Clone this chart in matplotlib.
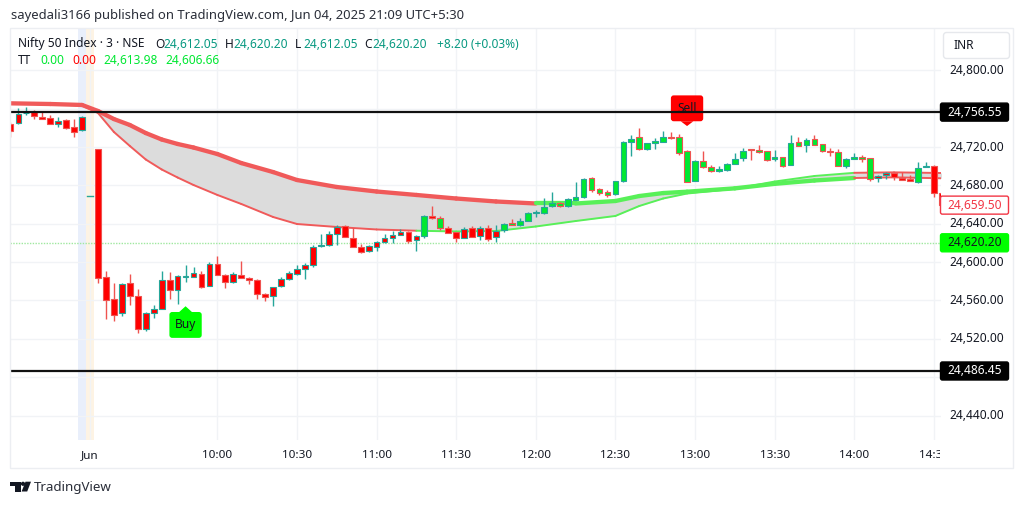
import numpy as np
import matplotlib
matplotlib.use("Agg")
import matplotlib.pyplot as plt
from matplotlib.patches import FancyBboxPatch, Polygon, Rectangle
from matplotlib.transforms import Bbox, blended_transform_factory

plt.rcParams['font.family'] = ['Noto Sans', 'DejaVu Sans']

# ==================== DATA ====================
bars = np.arange(-11, 107)

opens = [24743.8, 24744.9, 24755.3, 24756.6, 24751.7, 24750.0, 24744.1, 24748.0, 24741.3, 24737.9, 24669.3,
         24717.7, 24584.2, 24561.2, 24546.6, 24578.6, 24564.7, 24530.2, 24546.9, 24551.1, 24581.7,
         24571.3, 24584.8, 24584.8, 24587.6, 24575.4, 24597.8, 24586.9, 24579.0, 24586.9, 24583.2,
         24581.4, 24566.8, 24565.0, 24574.8, 24582.4, 24587.6, 24593.2, 24597.0, 24616.5, 24617.9,
         24629.4, 24638.0, 24625.5, 24616.1, 24611.2, 24616.1, 24621.0, 24624.9, 24628.3, 24631.5,
         24622.8, 24627.6, 24648.2, 24645.8, 24635.3, 24631.1, 24625.5, 24635.3, 24627.6, 24635.6,
         24626.5, 24633.2, 24640.8, 24639.1, 24643.2, 24651.6, 24651.0, 24658.6, 24662.0, 24658.6,
         24665.2, 24667.7, 24688.1, 24676.0, 24673.5, 24671.1, 24684.4, 24725.0, 24730.9, 24717.7,
         24724.0, 24725.4, 24730.6, 24730.3, 24716.0, 24685.0, 24705.8, 24699.3, 24694.8, 24696.1,
         24702.4, 24708.3, 24718.0, 24717.0, 24715.6, 24707.3, 24709.4, 24701.4, 24725.7, 24721.9,
         24728.2, 24722.9, 24716.3, 24714.6, 24700.3, 24707.9, 24709.4, 24708.3, 24687.5, 24691.2,
         24692.7, 24688.1, 24686.8, 24683.6, 24699.2, 24700.0, 24672.4]
highs = [24746.0, 24760.8, 24761.9, 24758.7, 24757.0, 24753.5, 24751.4, 24749.0, 24749.3, 24752.0, 24669.3,
         24717.7, 24591.1, 24577.9, 24578.0, 24587.3, 24571.7, 24547.5, 24555.3, 24590.8, 24589.4,
         24586.6, 24596.7, 24595.3, 24591.1, 24600.2, 24606.4, 24587.5, 24590.0, 24601.5, 24584.8,
         24582.0, 24567.5, 24574.5, 24584.8, 24591.1, 24597.0, 24599.4, 24617.9, 24629.4, 24632.8,
         24638.8, 24638.5, 24635.3, 24618.9, 24617.5, 24622.0, 24629.4, 24632.8, 24634.3, 24632.0,
         24628.0, 24649.0, 24658.6, 24648.2, 24637.7, 24631.5, 24637.0, 24637.7, 24637.7, 24639.1,
         24638.8, 24640.8, 24645.0, 24645.8, 24652.3, 24654.4, 24667.2, 24673.2, 24663.0, 24666.5,
         24683.6, 24687.5, 24689.2, 24677.0, 24675.3, 24685.0, 24726.0, 24732.6, 24739.6, 24724.5,
         24729.8, 24736.8, 24735.5, 24733.7, 24716.5, 24706.5, 24716.0, 24701.4, 24700.6, 24703.0,
         24713.6, 24718.8, 24718.4, 24722.2, 24716.0, 24717.0, 24710.0, 24733.0, 24730.9, 24729.2,
         24732.6, 24723.5, 24719.4, 24718.0, 24708.5, 24713.6, 24711.8, 24709.0, 24691.0, 24694.4,
         24694.4, 24694.4, 24691.0, 24704.2, 24704.8, 24701.0, 24672.8]
lows = [24731.0, 24744.0, 24753.5, 24749.3, 24749.0, 24744.0, 24741.0, 24739.0, 24731.0, 24737.0, 24669.3,
        24578.6, 24540.7, 24538.9, 24544.1, 24555.3, 24525.8, 24528.2, 24541.4, 24551.0, 24561.2,
        24556.3, 24579.6, 24584.2, 24572.7, 24575.0, 24586.5, 24573.3, 24578.5, 24583.0, 24576.9,
        24561.5, 24559.8, 24554.6, 24574.5, 24581.4, 24587.0, 24582.4, 24594.6, 24615.5, 24616.8,
        24617.9, 24626.0, 24616.0, 24609.8, 24610.5, 24611.6, 24620.5, 24620.3, 24628.0, 24620.3,
        24612.0, 24625.5, 24645.5, 24633.5, 24630.3, 24621.3, 24624.9, 24625.8, 24623.1, 24622.4,
        24621.3, 24631.8, 24638.8, 24637.7, 24642.8, 24647.4, 24650.5, 24658.0, 24658.0, 24658.0,
        24665.0, 24666.6, 24673.5, 24670.4, 24668.3, 24670.5, 24684.0, 24711.0, 24717.0, 24717.0,
        24718.4, 24725.0, 24728.5, 24711.8, 24683.5, 24684.5, 24697.9, 24693.7, 24693.7, 24695.6,
        24702.0, 24705.8, 24706.6, 24714.0, 24706.0, 24705.8, 24699.6, 24701.0, 24721.0, 24714.6,
        24722.0, 24714.6, 24710.8, 24700.0, 24697.9, 24707.3, 24704.8, 24684.7, 24683.3, 24686.4,
        24685.7, 24685.5, 24684.5, 24682.3, 24699.0, 24668.3, 24656.5]
closes = [24737.0, 24754.6, 24755.9, 24752.5, 24749.3, 24744.4, 24747.6, 24739.6, 24736.1, 24751.1, 24669.3,
          24583.1, 24560.5, 24545.2, 24577.5, 24564.7, 24530.2, 24546.9, 24551.1, 24581.7, 24570.6,
          24585.2, 24585.2, 24588.4, 24574.4, 24597.8, 24586.9, 24579.0, 24587.6, 24583.2, 24581.4,
          24567.1, 24564.0, 24574.1, 24582.4, 24588.4, 24593.2, 24597.3, 24615.5, 24617.9, 24629.4,
          24637.0, 24626.5, 24616.1, 24610.6, 24616.8, 24621.3, 24624.9, 24628.3, 24631.5, 24622.4,
          24627.3, 24648.5, 24645.8, 24635.3, 24630.7, 24624.9, 24634.6, 24626.2, 24635.3, 24623.8,
          24632.2, 24639.8, 24639.1, 24643.2, 24651.0, 24651.9, 24657.9, 24662.0, 24658.6, 24665.6,
          24667.7, 24686.8, 24675.3, 24672.4, 24670.4, 24684.4, 24725.3, 24728.8, 24717.7, 24724.0,
          24726.4, 24730.3, 24729.1, 24713.6, 24683.9, 24705.8, 24699.6, 24694.8, 24696.9, 24702.4,
          24707.3, 24716.3, 24717.0, 24714.9, 24706.6, 24710.0, 24700.6, 24724.6, 24721.5, 24727.4,
          24722.2, 24716.3, 24714.9, 24700.6, 24707.9, 24709.4, 24707.9, 24686.4, 24690.2, 24693.3,
          24688.5, 24685.7, 24684.7, 24698.5, 24699.9, 24672.4, 24659.5]

# bars painted green by the TT indicator, all others are red
green_bars = [41, 43] + list(range(51, 98)) + [103, 104]

ema_bars = [-11, -6, -2, 0, 2, 4, 6, 8, 10, 12, 15, 18, 22, 25, 30, 35, 40, 45, 50, 55, 60, 65, 68, 71, 74,
            80, 85, 90, 95, 100, 106]
ema_slow = [24765.7, 24765.0, 24764.0, 24757.7, 24749.3, 24743.1, 24734.7, 24728.0, 24723.3, 24719.6,
            24712.8, 24703.4, 24694.0, 24685.7, 24678.4, 24673.7, 24670.1, 24666.4, 24663.3, 24661.2,
            24661.2, 24663.8, 24669.0, 24672.1, 24673.5, 24677.0, 24681.7, 24685.2, 24687.8, 24688.5, 24687.5]
ema_fast = [24765.5, 24764.7, 24763.4, 24755.6, 24735.8, 24721.2, 24707.1, 24696.7, 24688.3, 24680.5,
            24670.1, 24660.7, 24647.1, 24639.8, 24636.7, 24634.1, 24632.8, 24632.0, 24632.5, 24637.2,
            24642.9, 24648.2, 24658.6, 24666.4, 24671.6, 24676.5, 24684.1, 24689.9, 24693.2, 24693.7, 24693.0]

price_ticks = np.arange(24440, 24801, 40)
hidden_ticks = [24760, 24480]  # sit under the level tags
time_ticks = [-1, 15, 25, 35, 45, 55, 65, 75, 85, 95, 105]
time_labels = ['Jun', '10:00', '10:30', '11:00', '11:30', '12:00', '12:30', '13:00', '13:30', '14:00', '14:30']

upper_level = 24756.55
lower_level = 24486.45
last_price = 24620.20
signal_price = 24659.50

buy_bar, buy_tip, buy_top, buy_bottom = 11, 24554, 24548, 24521
sell_bar, sell_tip, sell_bottom, sell_top = 74, 24742, 24747, 24774

# ==================== COLOURS ====================
UP = '#26a69a'
DOWN = '#ef5350'
RED = '#ff0000'
GREEN = '#00e832'
INK = '#131722'

# ==================== FIGURE ====================
W, H = 1024, 505
fig = plt.figure(figsize=(W / 100, H / 100), dpi=100, facecolor='white')

# overlay in pixel coords for the page furniture
page = fig.add_axes([0, 0, 1, 1], zorder=2)
page.set_xlim(0, W)
page.set_ylim(H, 0)
page.axis('off')
page.add_patch(Rectangle((10, 28), 1003, 440, fill=False, ec='#eceef2', lw=1))

ax = fig.add_axes([10 / W, 1 - 440 / H, 930.5 / W, 412 / H], zorder=1)
ax.set_xlim(-11.055, 105.84)
ax.set_ylim(24414.45, 24844.3)
for s in ax.spines.values():
    s.set_visible(False)

ax.set_axisbelow(True)
ax.grid(True, color='#f1f3f6', lw=1)
ax.yaxis.tick_right()
ax.set_yticks(price_ticks)
ax.set_yticklabels(['' if p in hidden_ticks else f'{p:,.2f}' for p in price_ticks],
                   fontsize=8.6, color=INK, va='center')
ax.set_xticks(time_ticks)
ax.set_xticklabels(time_labels, fontsize=8.4, color=INK)
ax.tick_params(length=0)
ax.tick_params(axis='y', pad=6.5)
ax.tick_params(axis='x', pad=7)
# last time label runs into the price scale
last = ax.get_xticklabels()[-1]
last.set_clip_on(True)
last.set_clip_box(Bbox([[0, 0], [940, H]]))

# session break
ax.axvspan(-2.5, -1.5, color='#e9effb', lw=0, zorder=0)
ax.axvspan(-1.5, -0.5, color='#fdf3e4', lw=0, zorder=0)

# ==================== EMA CLOUD ====================
ax.fill_between(ema_bars, ema_slow, ema_fast, color='#dcdcdc', lw=0, zorder=1)

for a in range(len(ema_bars) - 1):
    seg_x = ema_bars[a:a + 2]
    slow_col = '#58f058' if 55 <= ema_bars[a] < 95 else '#f05a5a'
    fast_col = '#58f058' if 40 <= ema_bars[a] < 95 else '#f05a5a'
    slow_lw = 1.4 if ema_bars[a] >= 95 else 3.1  # slow line thins out at the end
    ax.plot(seg_x, ema_slow[a:a + 2], color=slow_col, lw=slow_lw, solid_capstyle='round', zorder=2)
    ax.plot(seg_x, ema_fast[a:a + 2], color=fast_col, lw=1.4, solid_capstyle='round', zorder=2)

# ==================== CANDLES ====================
for i, b in enumerate(bars):
    o, h, l, c = opens[i], highs[i], lows[i], closes[i]
    edge = UP if c >= o else DOWN
    body = GREEN if b in green_bars else RED
    ax.vlines(b, l, h, color=edge, lw=1, zorder=3)
    if b == -1:
        ax.plot([b - 0.35, b + 0.35], [o, o], color=edge, lw=1, zorder=3)
        continue
    ax.bar(b, abs(c - o), bottom=min(o, c), width=0.72, color=body, edgecolor=edge, lw=0.8, zorder=4)

# ==================== LEVELS ====================
ax.axhline(upper_level, color='#111111', lw=1.6, zorder=6)
ax.axhline(lower_level, color='#111111', lw=1.6, zorder=6)
ax.axhline(last_price, color='#9fe89f', lw=1, ls=(0, (1, 1)), zorder=2)

# ==================== BUY / SELL ====================
ax.add_patch(FancyBboxPatch((buy_bar - 2.03, buy_bottom), 4.06, buy_top - buy_bottom,
                            boxstyle='round,pad=0,rounding_size=0.35', mutation_aspect=8.3,
                            fc='#00ff00', ec='none', zorder=5))
ax.add_patch(Polygon([(buy_bar - 0.8, buy_top), (buy_bar, buy_tip), (buy_bar + 0.8, buy_top)],
                     fc='#00ff00', ec='none', zorder=5))
ax.text(buy_bar, (buy_top + buy_bottom) / 2, 'Buy', ha='center', va='center', fontsize=8.6, color=INK, zorder=7)

ax.add_patch(FancyBboxPatch((sell_bar - 2.03, sell_bottom), 4.06, sell_top - sell_bottom,
                            boxstyle='round,pad=0,rounding_size=0.35', mutation_aspect=8.3,
                            fc=RED, ec='none', zorder=5))
ax.add_patch(Polygon([(sell_bar - 0.8, sell_bottom), (sell_bar, sell_tip), (sell_bar + 0.8, sell_bottom)],
                     fc=RED, ec='none', zorder=5))
ax.text(sell_bar, (sell_top + sell_bottom) / 2, 'Sell', ha='center', va='center', fontsize=8.6, color=INK, zorder=5.5)

# ==================== PRICE TAGS ====================
trans = blended_transform_factory(ax.transAxes, ax.transData)
tags = [(upper_level, '#000000', '#000000', 'white'),
        (lower_level, '#000000', '#000000', 'white'),
        (last_price, '#00ff00', '#00ff00', INK),
        (signal_price, 'white', '#f23645', '#f23645')]
for price, fc, ec, tc in tags:
    ax.add_patch(FancyBboxPatch((1.0, price - 9.4), 68 / 930.5, 18.8, transform=trans,
                                boxstyle='round,pad=0,rounding_size=0.002', mutation_aspect=1000,
                                fc=fc, ec=ec, lw=1, clip_on=False, zorder=8))
    ax.text(1 + 34 / 930.5, price, f'{price:,.2f}', transform=trans, ha='center', va='center',
            fontsize=8.6, color=tc, zorder=9, clip_on=False)

# ==================== HEADER ====================
page.text(11, 16, 'sayedali3166 published on TradingView.com, Jun 04, 2025 21:09 UTC+5:30',
          fontsize=9.4, color='#2a2e39', va='center')

TEAL = '#089981'
row1 = [(18, 'Nifty 50 Index · 3 · NSE', INK), (155, 'O', INK), (163, '24,612.05', TEAL),
        (225, 'H', INK), (233, '24,620.20', TEAL), (295, 'L', INK), (303, '24,612.05', TEAL),
        (364, 'C', INK), (372, '24,620.20', TEAL), (437, '+8.20 (+0.03%)', TEAL)]
for x, t, col in row1:
    page.text(x, 44, t, fontsize=8.6, color=col, va='center')

row2 = [(18, 'TT', INK), (40, '0.00', '#00e832'), (72, '0.00', '#ff0000'),
        (103, '24,613.98', '#00e832'), (165, '24,606.66', '#00e832')]
for x, t, col in row2:
    page.text(x, 61, t, fontsize=8.6, color=col, va='center')

# currency box
page.add_patch(FancyBboxPatch((943.5, 32.5), 66, 26, boxstyle='round,pad=0,rounding_size=3',
                              fc='white', ec='#e6e8ec', lw=1))
page.text(953.5, 45.5, 'INR', fontsize=8.6, color=INK, va='center')

# ==================== LOGO ====================
page.add_patch(Polygon([(10, 481.7), (20.5, 481.7), (20.5, 491.5), (15, 491.5), (15, 486), (10, 486)],
                       fc='#131722', ec='none'))
page.add_patch(plt.Circle((23, 483.8), 2.1, fc='#131722', ec='none'))
page.add_patch(Polygon([(25.5, 481.7), (31, 481.7), (27.2, 491.5), (21.6, 491.5)], fc='#131722', ec='none'))
page.text(34, 487.5, 'TradingView', fontsize=9.6, color='#2a2e39', va='center')

fig.savefig('out.png', dpi=100)
